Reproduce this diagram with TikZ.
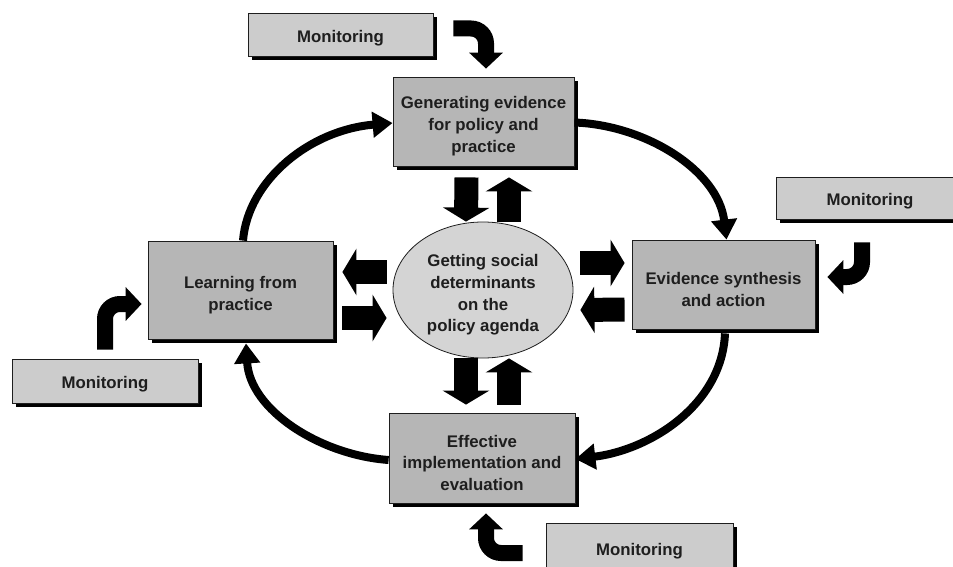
\documentclass[tikz,border=0pt]{standalone}
\usepackage{fontspec}
\setmainfont{Liberation Sans}
\usetikzlibrary{arrows.meta,shadows,shapes.geometric,calc}
\definecolor{boxgray}{RGB}{182,182,182}
\definecolor{mongray}{RGB}{204,204,204}
\definecolor{ellgray}{RGB}{212,212,212}
\definecolor{inkc}{RGB}{30,30,30}
\newcommand{\lowfirst}{\rule{0pt}{22pt}}
\begin{document}
\begin{tikzpicture}[x=1pt,y=-1pt,
  shadowed/.style={drop shadow={opacity=1,fill=black,shadow xshift=4pt,shadow yshift=-4pt}},
  txt/.style={font=\bfseries\fontsize{16.8}{21.8}\selectfont,text=inkc,align=center},
  mainbox/.style={shadowed,txt,draw=inkc,line width=0.8pt,fill=boxgray,inner sep=0pt},
  monbox/.style={shadowed,txt,draw=inkc,line width=0.8pt,fill=mongray,inner sep=0pt},
  hub/.style={ellipse,txt,draw=inkc,line width=0.8pt,fill=ellgray,inner sep=0pt,minimum width=180pt,minimum height=136pt},
  blk/.style={line width=24pt,black,-{Triangle[length=14pt,width=46pt]}},
  cyc/.style={line width=8pt,black,-{Triangle[length=20pt,width=25pt]}},
  marrow/.style={line width=16pt,black,rounded corners=15pt,-{Triangle[length=16pt,width=33pt]}}
]
\useasboundingbox (0,0) rectangle (953,567);
\clip (0,0) rectangle (953,567);

% main boxes
\node[mainbox,minimum width=181pt,minimum height=89pt] (gen) at (483.5,121.5) {\lowfirst Generating evidence\\for policy and\\practice};
\node[mainbox,minimum width=183pt,minimum height=89pt] (evi) at (723.5,284.5) {\lowfirst Evidence synthesis\\and action};
\node[mainbox,minimum width=185pt,minimum height=98pt] (learn) at (240.5,290) {\lowfirst Learning from\\practice};
\node[mainbox,minimum width=186pt,minimum height=90pt] (eff) at (482,458) {\lowfirst Effective\\implementation and\\evaluation};
\node[hub] (ell) at (483,290) {\lowfirst Getting social\\determinants\\on the\\policy agenda};

% monitoring boxes
\node[monbox,minimum width=185pt,minimum height=43pt] (mon1) at (340.5,34.5) {\rule{0pt}{19pt}Monitoring};
\node[monbox,minimum width=188pt,minimum height=42pt] (mon2) at (870,198) {\rule{0pt}{19pt}Monitoring};
\node[monbox,minimum width=186pt,minimum height=44pt] (mon3) at (105,381) {\rule{0pt}{19pt}Monitoring};
\node[monbox,minimum width=187pt,minimum height=50pt] (mon4) at (639.5,548) {\rule{0pt}{19pt}Monitoring};

% cycle arrows
\draw[cyc] ([xshift=2.5pt]learn.north) .. controls (248,180) and (310,130) .. ([yshift=-1.5pt]gen.west);
\draw[cyc] ([yshift=-1pt]gen.east) .. controls (645,125) and (718,170) .. ([xshift=3pt]evi.north);
\draw[cyc] ([xshift=1.5pt,yshift=-4pt]evi.south) .. controls (722,405) and (650,450) .. ([yshift=-1pt]eff.east);
\draw[cyc] ([yshift=-2pt]eff.west) .. controls (320,455) and (250,410) .. ([xshift=5.5pt,yshift=-4pt]learn.south);

% block arrows between boxes and hub
\draw[blk] ([xshift=-17pt,yshift=-11pt]gen.south) -- ([xshift=-17pt]ell.north);
\draw[blk] ([xshift=26pt]ell.north) -- ([xshift=25.5pt,yshift=-11pt]gen.south);
\draw[blk] ([xshift=-17pt]ell.south) -- ([xshift=-16pt,yshift=8pt]eff.north);
\draw[blk] ([xshift=27pt,yshift=8pt]eff.north) -- ([xshift=26pt]ell.south);
\draw[blk] ($(ell.west)+(-6,-18)$) -- ($(learn.east)+(9,-18)$);
\draw[blk] ($(learn.east)+(9,28)$) -- ($(ell.west)+(-6,28)$);
\draw[blk] ($(ell.east)+(7,-27)$) -- ($(evi.west)+(-7,-21.5)$);
\draw[blk] ($(evi.west)+(-7,25)$) -- ($(ell.east)+(7,20)$);

% monitoring arrows
\draw[marrow] ([xshift=20pt,yshift=6pt]mon1.east) -| ([xshift=2.5pt,yshift=8pt]gen.north);
\draw[marrow] ([xshift=-8pt,yshift=-23pt]mon2.south) |- ([xshift=12pt,yshift=7.5pt]evi.east);
\draw[marrow] ([yshift=9pt]mon3.north) |- ([xshift=-6pt,yshift=-14pt]learn.west);
\draw[marrow] ([xshift=-23pt,yshift=-5pt]mon4.west) -| ([xshift=4pt,yshift=-10pt]eff.south);
\end{tikzpicture}
\end{document}
